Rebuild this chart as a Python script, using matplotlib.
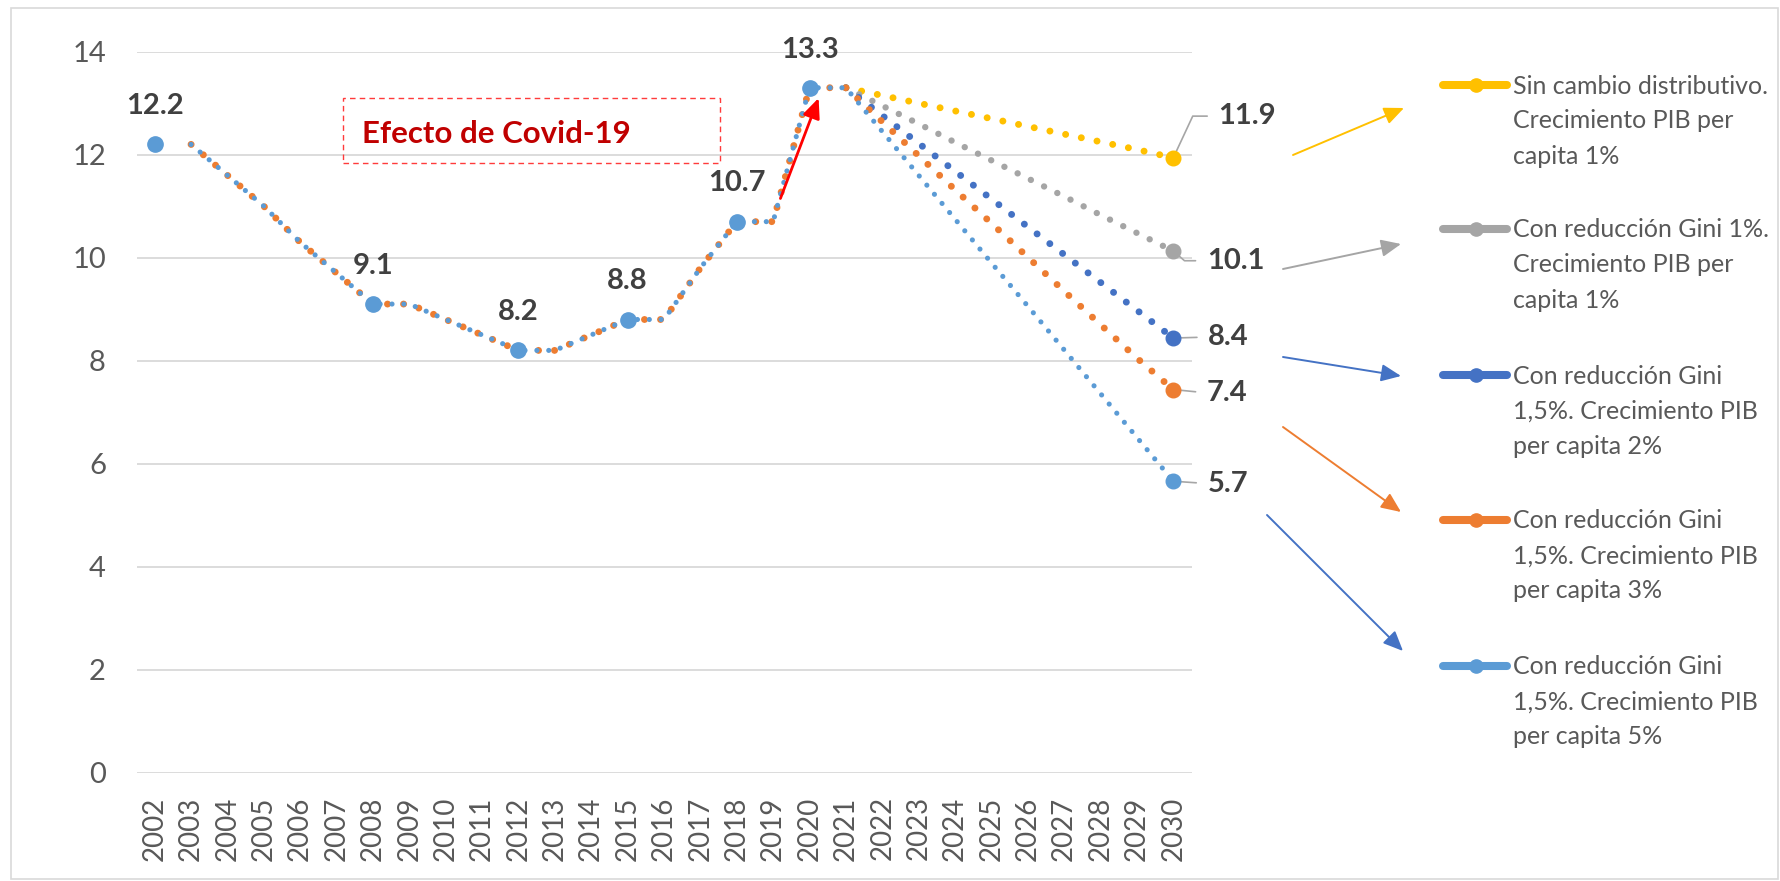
import matplotlib
matplotlib.use("Agg")
import matplotlib.pyplot as plt
from matplotlib.lines import Line2D
from matplotlib.patches import Rectangle, FancyArrowPatch

plt.rcParams['font.family'] = ['Lato', 'DejaVu Sans']

# ---------------- data ----------------
years = list(range(2002, 2031))
year_labels = [str(y) for y in years]
y_ticks = [0, 2, 4, 6, 8, 10, 12, 14]

hist_years = list(range(2002, 2022))
hist_values = [12.2, 12.2, 11.6, 11.0, 10.3, 9.7, 9.1, 9.1, 8.8, 8.5,
               8.2, 8.2, 8.5, 8.8, 8.8, 9.8, 10.7, 10.7, 13.3, 13.3]
hist_label_years = [2002, 2008, 2012, 2015, 2018, 2020]

proj_years = list(range(2021, 2031))
proj_sin_cambio = [13.3, 13.15, 13.0, 12.85, 12.7, 12.55, 12.4, 12.25, 12.1, 11.94]
proj_gini1_pib1 = [13.3, 12.95, 12.6, 12.24, 11.89, 11.54, 11.19, 10.83, 10.48, 10.13]
proj_gini15_pib2 = [13.3, 12.76, 12.22, 11.68, 11.14, 10.6, 10.06, 9.52, 8.98, 8.44]
proj_gini15_pib3 = [13.3, 12.64, 11.98, 11.32, 10.67, 10.01, 9.35, 8.7, 8.05, 7.44]
proj_gini15_pib5 = [13.3, 12.45, 11.6, 10.75, 9.9, 9.06, 8.21, 7.36, 6.51, 5.66]

series_labels = [
    "Sin cambio distributivo.\nCrecimiento PIB per\ncapita 1%",
    "Con reducción Gini 1%.\nCrecimiento PIB per\ncapita 1%",
    "Con reducción Gini\n1,5%. Crecimiento PIB\nper capita 2%",
    "Con reducción Gini\n1,5%. Crecimiento PIB\nper capita 3%",
    "Con reducción Gini\n1,5%. Crecimiento PIB\nper capita 5%",
]
annotation_text = "Efecto de Covid-19"

# ---------------- style ----------------
W, H = 1780, 881
colors = ['#FFC000', '#A5A5A5', '#4472C4', '#ED7D31', '#5B9BD5']
line_w = [5.0, 4.6, 5.0, 5.0, 3.7]
arrow_colors = ['#FFC000', '#A5A5A5', '#4472C4', '#ED7D31', '#4472C4']
label_color = '#404040'
tick_color = '#595959'
grid_color = '#D9D9D9'
projections = [proj_sin_cambio, proj_gini1_pib1, proj_gini15_pib2,
               proj_gini15_pib3, proj_gini15_pib5]


def fx(px):
    return px / W


def fy(py):
    return 1 - py / H


fig = plt.figure(figsize=(W / 100, H / 100), dpi=100)
fig.patch.set_facecolor('white')
ax = fig.add_axes([fx(136.5), fy(772.7), fx(1191.5) - fx(136.5), fy(51.7) - fy(772.7)])

dot = (0, (0.01, 2.3))

# projection-only series (history hidden underneath)
for i in range(3):
    ax.plot(proj_years, projections[i], color=colors[i], lw=line_w[i],
            linestyle=dot, dash_capstyle='round', zorder=2 + i * 0.1)

# full series (history + projection) for orange and light blue
for i in (3, 4):
    xs = hist_years[1:] + proj_years[1:]
    ys = hist_values[1:] + projections[i][1:]
    ax.plot(xs, ys, color=colors[i], lw=line_w[i], linestyle=dot,
            dash_capstyle='round', zorder=3 + i * 0.1)

# markers
hv = dict(zip(hist_years, hist_values))
ax.plot(hist_label_years, [hv[y] for y in hist_label_years], linestyle='none',
        marker='o', markersize=11, color=colors[4], zorder=5)
for i in range(5):
    ax.plot([proj_years[-1]], [projections[i][-1]], linestyle='none', marker='o',
            markersize=10.5, color=colors[i], zorder=5)

# historical data labels
for y in hist_label_years:
    ax.annotate(f"{hv[y]:.1f}", (y, hv[y]), xytext=(0, 27.5), textcoords='offset points',
                ha='center', va='center', fontsize=21, fontweight='bold',
                color=label_color, annotation_clip=False)

# end labels with leader lines
end_offsets = [(32.4, 30.0), (24.0, -7.0), (25.0, 0.7), (24.0, -2.4), (24.5, -1.7)]
end_conn = ["angle,angleA=0,angleB=65,rad=0", "angle,angleA=0,angleB=-41,rad=0",
            "arc3", "arc3", "arc3"]
for i in range(5):
    v = projections[i][-1]
    ax.annotate(f"{v:.1f}", (proj_years[-1], v), xytext=end_offsets[i],
                textcoords='offset points', ha='left', va='center', fontsize=21,
                fontweight='bold', color=label_color, annotation_clip=False,
                arrowprops=dict(arrowstyle='-', color='#A6A6A6', lw=1.2,
                                shrinkA=6, shrinkB=2, relpos=(0, 0.5),
                                connectionstyle=end_conn[i]), zorder=4)

# axes styling
ax.set_xlim(years[0] - 0.5, years[-1] + 0.5)
ax.set_ylim(0, 14)
ax.set_xticks(years)
ax.set_xticklabels(year_labels, rotation=90, fontsize=20, color=tick_color)
ax.set_yticks(y_ticks)
ax.set_yticklabels([str(t) for t in y_ticks], fontsize=21, color=tick_color)
ax.tick_params(axis='x', length=0, pad=17)
ax.tick_params(axis='y', length=0, pad=22)
for s in ax.spines.values():
    s.set_visible(False)
ax.yaxis.grid(True, color=grid_color, lw=1.3)
ax.set_axisbelow(True)

# Covid annotation box and arrow
fig.add_artist(Rectangle((fx(343), fy(162.7)), fx(720) - fx(343), fy(97.7) - fy(162.7),
                         transform=fig.transFigure, fill=False, edgecolor='#FF3B3B',
                         lw=1.0, linestyle=(0, (4, 3))))
fig.text(fx(362), fy(143.3), annotation_text, fontsize=22.5, fontweight='bold',
         color='#C00000', ha='left', va='baseline')
ax.annotate("", xy=(2020.25, 13.1), xytext=(2019.2, 11.15),
            arrowprops=dict(arrowstyle='-|>,head_length=0.8,head_width=0.35',
                            mutation_scale=15, color='#FF0000', lw=2.0,
                            shrinkA=0, shrinkB=0), zorder=6)

# connecting arrows to legend
arrow_pts = [((1293, 155), (1404, 108)), ((1283, 269), (1401, 244)),
             ((1283, 357), (1401, 376)), ((1283, 427), (1401, 512)),
             ((1267, 515), (1403, 651))]
for (a, b), c in zip(arrow_pts, arrow_colors):
    fig.add_artist(FancyArrowPatch((fx(a[0]), fy(a[1])), (fx(b[0]), fy(b[1])),
                                   transform=fig.transFigure,
                                   arrowstyle='-|>,head_length=0.8,head_width=0.35',
                                   mutation_scale=15, color=c, lw=1.4,
                                   shrinkA=0, shrinkB=0))

# manual legend
leg_y = [85, 229, 375, 520, 666]
for i in range(5):
    y0 = leg_y[i]
    fig.add_artist(Line2D([fx(1443), fx(1507)], [fy(y0), fy(y0)], transform=fig.transFigure,
                          color=colors[i], lw=5.8, solid_capstyle='round'))
    fig.add_artist(Line2D([fx(1476)], [fy(y0)], transform=fig.transFigure,
                          color=colors[i], marker='o', markersize=9.5, linestyle='none'))
    for k, line in enumerate(series_labels[i].split('\n')):
        fig.text(fx(1513), fy(y0 + 8.5 + 35 * k), line, fontsize=18, color=tick_color,
                 ha='left', va='baseline')

# chart border
fig.add_artist(Rectangle((fx(11), fy(879)), fx(1778) - fx(11), fy(8) - fy(879),
                         transform=fig.transFigure, fill=False, edgecolor='#D9D9D9', lw=1.2))

fig.savefig('out.png', dpi=100, facecolor='white')
